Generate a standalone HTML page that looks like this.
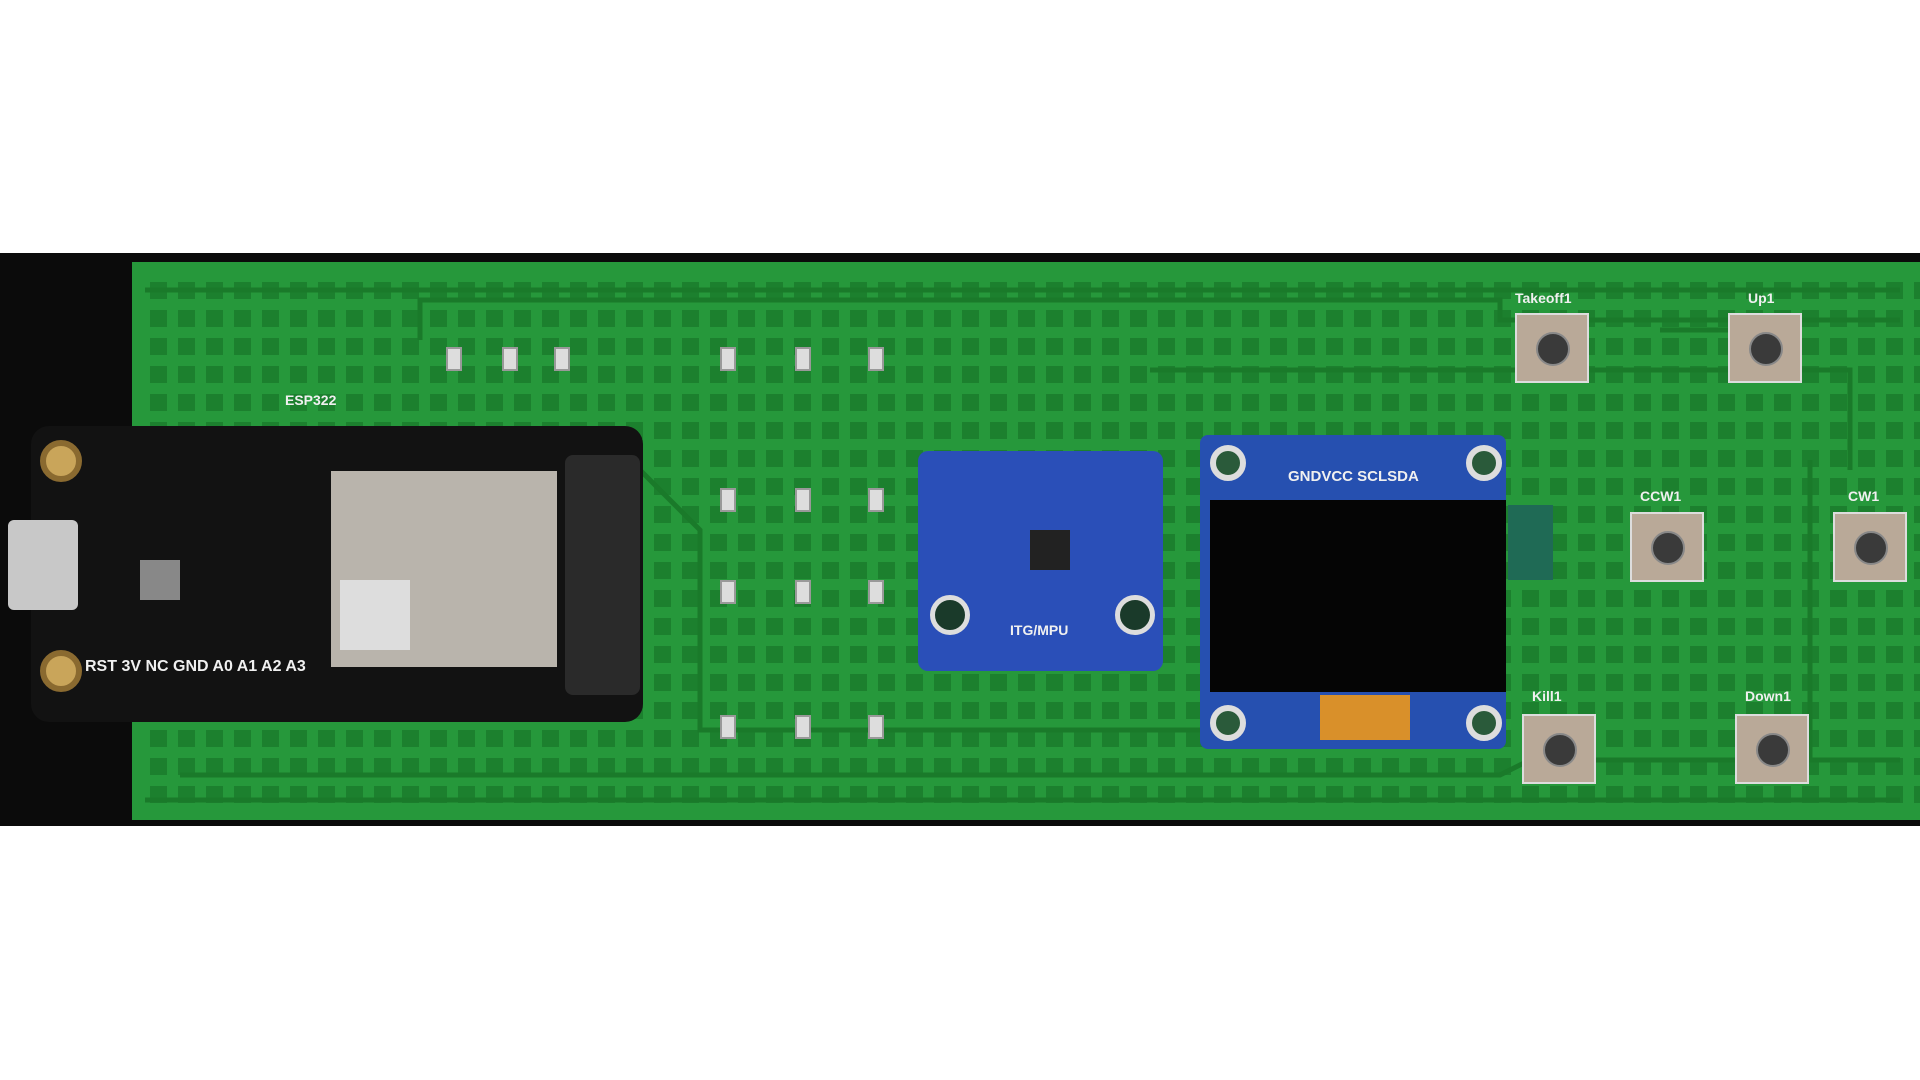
<!DOCTYPE html>
<html><head><style>
body{margin:0;width:1920px;height:1080px;background:#fff;position:relative;overflow:hidden;font-family:"Liberation Sans",sans-serif}
.a{position:absolute}
.band{left:0;top:253px;width:1920px;height:573px;background:#0b0b0b}
.pcb{left:132px;top:262px;width:1788px;height:558px;background:#26983b}
.pcb2{background:repeating-linear-gradient(90deg,#1b7c2c 0 17px,transparent 17px 28px);
-webkit-mask:repeating-linear-gradient(#000 0 17px,transparent 17px 28px);mask:repeating-linear-gradient(#000 0 17px,transparent 17px 28px);opacity:.85}
.lbl{color:#f0f0f0;font-size:14px;font-weight:bold}
.btn{width:70px;height:66px;background:#b9a998;border:2px solid #ddd}
.btn::after{content:"";position:absolute;left:19px;top:17px;width:30px;height:30px;border-radius:50%;background:#3a3a3a;border:2px solid #888}
.smd{width:12px;height:20px;background:#ddd;border:2px solid #999}
</style></head><body>
<div class="a band"></div>
<div class="a pcb"></div>
<div class="a pcb2" style="left:150px;top:282px;width:1770px;height:525px"></div>
<svg class="a" style="left:0;top:0" width="1920" height="1080">
<g fill="none" stroke="#1a7a2a" stroke-width="5">
<path d="M145 290 H1900"/><path d="M420 340 V300 H1500 V320 H1900"/>
<path d="M145 800 H1900"/><path d="M180 775 H1500 L1530 760 H1900"/>
<path d="M1150 370 H1850 V470"/><path d="M640 470 L700 530 V730 H1500"/>
<path d="M1810 460 V760"/><path d="M1660 330 H1800"/>
</g>
</svg>
<!-- ESP32 board -->
<div class="a" style="left:31px;top:426px;width:612px;height:296px;background:#121212;border-radius:18px"></div>
<div class="a" style="left:40px;top:440px;width:30px;height:30px;border-radius:50%;background:#c9a55a;border:6px solid #8a6a30"></div>
<div class="a" style="left:40px;top:650px;width:30px;height:30px;border-radius:50%;background:#c9a55a;border:6px solid #8a6a30"></div>
<div class="a" style="left:8px;top:520px;width:70px;height:90px;background:#c8c8c8;border-radius:6px"></div>
<div class="a" style="left:565px;top:455px;width:75px;height:240px;background:#2a2a2a;border-radius:8px"></div>
<div class="a" style="left:331px;top:471px;width:226px;height:196px;background:#b9b4ac"></div>
<div class="a" style="left:340px;top:580px;width:70px;height:70px;background:#ddd"></div>
<div class="a" style="left:140px;top:560px;width:40px;height:40px;background:#888"></div>
<div class="a lbl" style="left:85px;top:658px;font-size:16px">RST 3V NC GND A0 A1 A2 A3</div>
<div class="a lbl" style="left:285px;top:392px">ESP322</div>
<!-- MPU -->
<div class="a" style="left:918px;top:451px;width:245px;height:220px;background:#2a4fb8;border-radius:10px"></div>
<div class="a" style="left:1030px;top:530px;width:40px;height:40px;background:#222"></div>
<div class="a" style="left:930px;top:595px;width:30px;height:30px;border-radius:50%;background:#1a3a2a;border:5px solid #ddd"></div>
<div class="a" style="left:1115px;top:595px;width:30px;height:30px;border-radius:50%;background:#1a3a2a;border:5px solid #ddd"></div>
<div class="a lbl" style="left:1010px;top:622px">ITG/MPU</div>
<!-- OLED -->
<div class="a" style="left:1200px;top:435px;width:306px;height:314px;background:#2650b0;border-radius:8px"></div>
<div class="a" style="left:1210px;top:500px;width:296px;height:192px;background:#050505"></div>
<div class="a" style="left:1508px;top:505px;width:45px;height:75px;background:#1f6a55"></div>
<div class="a" style="left:1210px;top:445px;width:24px;height:24px;border-radius:50%;border:6px solid #ddd;background:#2a5a3a"></div>
<div class="a" style="left:1466px;top:445px;width:24px;height:24px;border-radius:50%;border:6px solid #ddd;background:#2a5a3a"></div>
<div class="a" style="left:1210px;top:705px;width:24px;height:24px;border-radius:50%;border:6px solid #ddd;background:#2a5a3a"></div>
<div class="a" style="left:1466px;top:705px;width:24px;height:24px;border-radius:50%;border:6px solid #ddd;background:#2a5a3a"></div>
<div class="a" style="left:1320px;top:695px;width:90px;height:45px;background:#d9902a"></div>
<div class="a lbl" style="left:1288px;top:468px;font-size:15px">GNDVCC SCLSDA</div>
<!-- buttons -->
<div class="a btn" style="left:1515px;top:313px"></div><div class="a lbl" style="left:1515px;top:290px">Takeoff1</div>
<div class="a btn" style="left:1728px;top:313px"></div><div class="a lbl" style="left:1748px;top:290px">Up1</div>
<div class="a btn" style="left:1630px;top:512px"></div><div class="a lbl" style="left:1640px;top:488px">CCW1</div>
<div class="a btn" style="left:1833px;top:512px"></div><div class="a lbl" style="left:1848px;top:488px">CW1</div>
<div class="a btn" style="left:1522px;top:714px"></div><div class="a lbl" style="left:1532px;top:688px">Kill1</div>
<div class="a btn" style="left:1735px;top:714px"></div><div class="a lbl" style="left:1745px;top:688px">Down1</div>
<!-- small parts -->
<div class="a smd" style="left:446px;top:347px"></div><div class="a smd" style="left:502px;top:347px"></div><div class="a smd" style="left:554px;top:347px"></div>
<div class="a smd" style="left:720px;top:347px"></div><div class="a smd" style="left:795px;top:347px"></div><div class="a smd" style="left:868px;top:347px"></div>
<div class="a smd" style="left:720px;top:488px"></div><div class="a smd" style="left:795px;top:488px"></div><div class="a smd" style="left:868px;top:488px"></div>
<div class="a smd" style="left:720px;top:580px"></div><div class="a smd" style="left:795px;top:580px"></div><div class="a smd" style="left:868px;top:580px"></div>
<div class="a smd" style="left:720px;top:715px"></div><div class="a smd" style="left:795px;top:715px"></div><div class="a smd" style="left:868px;top:715px"></div>
</body></html>
